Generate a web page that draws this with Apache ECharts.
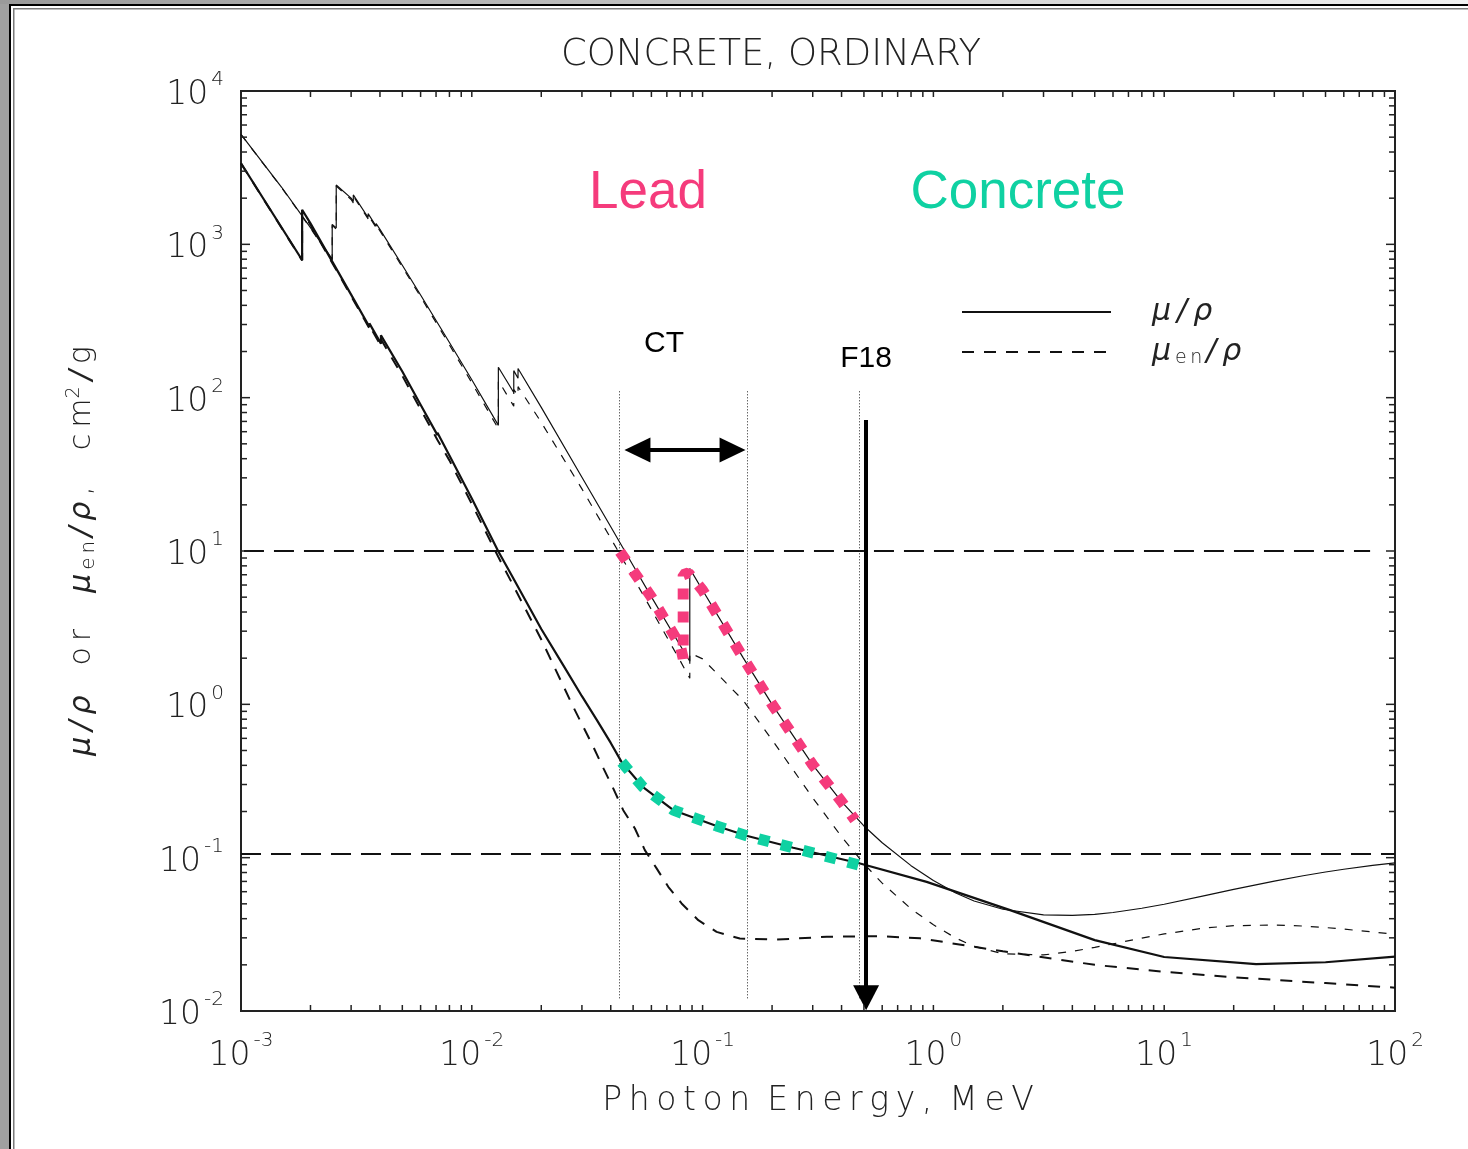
<!DOCTYPE html>
<html>
<head>
<meta charset="utf-8">
<script src="https://cdn.jsdelivr.net/npm/echarts@6/dist/echarts.min.js"></script>
<style>
html,body{margin:0;padding:0;background:#fff;}
#chart{width:1468px;height:1149px;}
</style>
</head>
<body>
<div id="chart"></div>
<script>
// Mass attenuation (mu/rho) and energy-absorption (mu_en/rho) coefficients, cm^2/g,
// versus photon energy in MeV.
const leadMu = [
  [0.001,5210],[0.0015,2356],[0.002,1285],[0.002484,800],[0.002484,1350],[0.002586,1280],
  [0.002586,2440],[0.003,2000],[0.003066,1900],[0.003066,2100],[0.003554,1496],[0.003554,1585],
  [0.003851,1311],[0.003851,1368],[0.004,1251],[0.005,730],[0.006,467],[0.008,229],[0.01,131],
  [0.013035,66],[0.013035,158],[0.0152,108],[0.0152,150],[0.01586,134],[0.01586,155],
  [0.02,86.4],[0.03,30.3],[0.04,14.4],[0.05,8.04],[0.06,5.02],[0.08,2.42],[0.088,1.91],
  [0.088,7.68],[0.1,5.55],[0.15,2.01],[0.2,1.0],[0.3,0.403],[0.4,0.232],[0.5,0.161],
  [0.6,0.125],[0.8,0.0887],[1,0.071],[1.25,0.0588],[1.5,0.0522],[2,0.0461],[3,0.0423],
  [4,0.042],[5,0.0427],[6,0.0439],[8,0.0468],[10,0.0497],[15,0.0566],[20,0.0621],
  [30,0.0704],[40,0.0762],[50,0.0806],[60,0.084],[80,0.089],[100,0.0924]
];
const leadMuEn = [
  [0.001,5197],[0.0015,2344],[0.002,1274],[0.002484,790],[0.002484,1330],[0.002586,1255],
  [0.002586,2400],[0.003,1960],[0.003066,1860],[0.003066,2060],[0.003554,1467],[0.003554,1554],
  [0.003851,1284],[0.003851,1339],[0.004,1224],[0.005,712],[0.006,455],[0.008,221],[0.01,125],
  [0.013035,62.7],[0.013035,129],[0.0152,88],[0.0152,113],[0.01586,103],[0.01586,118],
  [0.02,69],[0.03,25.4],[0.04,12.1],[0.05,6.74],[0.06,4.15],[0.08,1.92],[0.088,1.48],
  [0.088,2.16],[0.1,1.98],[0.15,1.06],[0.2,0.587],[0.3,0.2455],[0.4,0.137],[0.5,0.0913],
  [0.6,0.0682],[0.8,0.0464],[1,0.0365],[1.25,0.0299],[1.5,0.0264],[2,0.0236],[3,0.0232],
  [4,0.0245],[5,0.026],[6,0.0274],[8,0.0299],[10,0.0318],[15,0.0348],[20,0.036],
  [30,0.0364],[40,0.0358],[50,0.035],[60,0.0342],[80,0.0328],[100,0.0316]
];
const concreteMu = [
  [0.001,3380],[0.00184,790],[0.00184,1680],[0.002,1370],[0.0025,760],[0.003,470],
  [0.0036,290],[0.0036,305],[0.00404,225],[0.00404,255],[0.005,148],[0.006,90],
  [0.0071,57],[0.0071,59],[0.008,42],[0.01,22],[0.013,10],[0.015,6.8],[0.02,3.1],
  [0.025,1.78],[0.03,1.13],[0.035,0.78],[0.04,0.56],[0.0446,0.42],[0.055,0.29],
  [0.0747,0.204],[0.115,0.161],[0.155,0.139],[0.247,0.116],[0.481,0.0916],[0.935,0.0695],
  [2.15,0.0455],[5,0.029],[10,0.0225],[25,0.0202],[50,0.0208],[100,0.0226]
];
const concreteMuEn = [
  [0.001,3370],[0.00184,785],[0.00184,1640],[0.002,1340],[0.0025,745],[0.003,460],
  [0.0036,283],[0.0036,295],[0.00404,218],[0.00404,240],[0.005,139],[0.006,84],
  [0.0071,53],[0.0071,54],[0.008,39],[0.01,20.3],[0.013,9.2],[0.015,6.1],[0.02,2.65],
  [0.0275,0.964],[0.0336,0.529],[0.0372,0.382],[0.041,0.283],[0.0453,0.204],[0.0509,0.155],
  [0.0562,0.112],[0.0632,0.0851],[0.071,0.0646],[0.0811,0.0503],[0.0958,0.0391],
  [0.115,0.0328],[0.145,0.0297],[0.209,0.0292],[0.345,0.0305],[0.587,0.0308],
  [0.875,0.0298],[2,0.0245],[5,0.02],[10,0.018],[20,0.0166],[50,0.0152],[100,0.0142]
];
// Highlighted stretches of the lead and concrete attenuation curves
const leadHighlight = [
  [0.0438,9.9],[0.06,5.0],[0.08,2.42],[0.0824,1.99],[0.0824,7.0],[0.0868,7.2],
  [0.1,5.55],[0.15,2.01],[0.2,1.0],[0.3,0.403],[0.4,0.232],[0.457,0.176]
];
const concreteHighlight = [
  [0.0446,0.42],[0.055,0.29],[0.0747,0.204],[0.115,0.161],[0.155,0.139],[0.247,0.116],[0.479,0.0893]
];
// Axis decades (tick labels are 10^n)
const xDecades = [-3,-2,-1,0,1,2];
const yDecades = [-2,-1,0,1,2,3,4];
// Reference energies (MeV) and levels for the annotations
const ctRange = [0.0522,0.1348];
const ctArrowLevel = 45.5;
const guideEnergies = [0.0435,0.156,0.479];
const f18Energy = 0.511;
const f18Span = [71.5,0.01222];
const refLevels = [10.1,0.1054];

const ink = '#111';
const pink = '#f53b7c';
const teal = '#0fd1a2';
const thin = "'DejaVu Sans', 'Liberation Sans', sans-serif";
const arial = "'Liberation Sans', Arial, sans-serif";
const T = '\u2009';

function spaced(s, sep){ return s.split('').join(sep); }

function expLabel(v){
  const e = Math.round(Math.log10(v));
  return '{b|10}{e|' + e + '}';
}
const labelRich = {
  b:{fontSize:33,fontFamily:thin,fontWeight:200,color:'#222',padding:[9,0,0,0],verticalAlign:'bottom'},
  e:{fontSize:20,fontFamily:thin,fontWeight:200,color:'#222',verticalAlign:'top',padding:[0,0,0,3]}
};

// minor/major tick positions on a log axis
function logTicks(decades){
  const out = [];
  for (let i=0;i<decades.length;i++){
    const base = Math.pow(10,decades[i]);
    if (i>0 && i<decades.length-1) out.push([base,1]);
    if (i<decades.length-1) for (let m=2;m<=9;m++) out.push([base*m,0]);
  }
  return out;
}
const xTicks = logTicks(xDecades);
const yTicks = logTicks(yDecades);

function tickRenderer(dir){
  return function(params, api){
    const cs = params.coordSys;
    const major = api.value(2);
    const len = major ? 9 : 6;
    const st = {stroke:'#222', lineWidth:1.5};
    if (dir==='x'){
      const px = api.coord([api.value(0),1])[0];
      const b = cs.y+cs.height, t = cs.y;
      return {type:'group',children:[
        {type:'line',shape:{x1:px,y1:b,x2:px,y2:b-len},style:st},
        {type:'line',shape:{x1:px,y1:t,x2:px,y2:t+len},style:st}
      ]};
    }
    const py = api.coord([1,api.value(1)])[1];
    const l = cs.x, r = cs.x+cs.width;
    return {type:'group',children:[
      {type:'line',shape:{x1:l,y1:py,x2:l+len,y2:py},style:st},
      {type:'line',shape:{x1:r,y1:py,x2:r-len,y2:py},style:st}
    ]};
  };
}

const chart = echarts.init(document.getElementById('chart'), null, {renderer:'canvas'});
const yMax = Math.pow(10,yDecades[yDecades.length-1]);
const yMin = Math.pow(10,yDecades[0]);
const xMin = Math.pow(10,xDecades[0]);
const xMax = Math.pow(10,xDecades[xDecades.length-1]);

const annotationLines = [];
refLevels.forEach((lv,i)=>{
  annotationLines.push([
    {coord:[i===0?0.00103:xMin, lv], symbol:'none', lineStyle:{type:[20,10],width:2,color:ink}},
    {coord:[i===0?78:xMax, lv], symbol:'none'}
  ]);
});
guideEnergies.forEach(e=>{
  annotationLines.push([
    {coord:[e,110], symbol:'none', lineStyle:{type:[1,2],width:1,color:'#222'}},
    {coord:[e,0.0121], symbol:'none'}
  ]);
});
annotationLines.push([
  {coord:[ctRange[0],ctArrowLevel], symbol:'triangle', symbolSize:[25,26], lineStyle:{type:'solid',width:4,color:'#000'}},
  {coord:[ctRange[1],ctArrowLevel], symbol:'triangle', symbolSize:[25,26]}
]);
annotationLines.push([
  {coord:[f18Energy,f18Span[0]], symbol:'none', lineStyle:{type:'solid',width:4,color:'#000'}},
  {coord:[f18Energy,f18Span[1]], symbol:'triangle', symbolSize:[26,25]}
]);

const yName = '{i|' + spaced('μ/ρ',T) + '}\u2003' + spaced('or',T) + '\u2003\u2009{i|μ}{s|' + T + spaced('en',T) + T + '}{i|/' + T + 'ρ}' + T + ',\u2003\u2009'
  + spaced('cm',T) + '{p|2}' + T + '{i|/}' + T + 'g';

const option = {
  animation:false,
  backgroundColor:'#fff',
  grid:{left:241,right:73,top:91,bottom:138,show:true,borderColor:'#222',borderWidth:2,backgroundColor:'transparent'},
  xAxis:{
    type:'log', min:xMin, max:xMax, logBase:10,
    axisLine:{show:false}, axisTick:{show:false}, splitLine:{show:false}, minorTick:{show:false},
    axisLabel:{formatter:expLabel, rich:labelRich, margin:20},
    name:'P\u2009h\u2009o\u2009t\u2009o\u2009n \u2009E\u2009n\u2009e\u2009r\u2009g\u2009y\u2009, \u2009M\u2009e\u2009V',
    nameLocation:'middle', nameGap:74,
    nameTextStyle:{fontSize:33,fontFamily:thin,fontWeight:200,color:'#222',verticalAlign:'top'}
  },
  yAxis:{
    type:'log', min:yMin, max:yMax, logBase:10,
    axisLine:{show:false}, axisTick:{show:false}, splitLine:{show:false}, minorTick:{show:false},
    axisLabel:{formatter:expLabel, rich:labelRich, margin:17},
    name:yName,
    nameLocation:'middle', nameGap:142, nameRotate:90,
    nameTextStyle:{fontSize:30,fontFamily:thin,fontWeight:200,color:'#222',
      rich:{
        i:{fontSize:30,fontFamily:thin,fontWeight:200,fontStyle:'italic',color:'#222'},
        s:{fontSize:20,fontFamily:thin,fontWeight:200,color:'#222',verticalAlign:'bottom',padding:[14,0,0,0]},
        p:{fontSize:19,fontFamily:thin,fontWeight:200,color:'#222',verticalAlign:'top'}
      }}
  },
  legend:{
    data:['μ/ρ','μen/ρ'], orient:'vertical', left:956, top:292,
    itemWidth:149, itemHeight:14, itemGap:10, selectedMode:false,
    itemStyle:{opacity:0},
    formatter:n => n==='μ/ρ' ? '{i|μ' + T + '/' + T + 'ρ}' : '{i|μ}{s|' + T + 'e' + T + 'n' + T + '}{i|/' + T + 'ρ}',
    textStyle:{padding:[0,0,0,36],rich:{
      i:{fontSize:30,fontFamily:thin,fontWeight:200,fontStyle:'italic',color:'#222'},
      s:{fontSize:19,fontFamily:thin,fontWeight:200,color:'#222',verticalAlign:'bottom',padding:[12,0,0,0]}
    }}
  },
  series:[
    {type:'custom',silent:true,z:5,data:xTicks,encode:{x:0,y:1},renderItem:tickRenderer('x'),clip:false},
    {type:'custom',silent:true,z:5,data:yTicks.map(t=>[1,t[0],t[1]]),encode:{x:0,y:1},renderItem:tickRenderer('y'),clip:false},
    {name:'μ/ρ',type:'line',data:concreteMu,showSymbol:false,symbol:'none',z:3,
      itemStyle:{color:ink},lineStyle:{color:ink,width:2.2}},
    {name:'μ/ρ',type:'line',data:leadMu,showSymbol:false,symbol:'none',z:3,
      itemStyle:{color:ink},lineStyle:{color:ink,width:1.2}},
    {name:'μen/ρ',type:'line',data:concreteMuEn,showSymbol:false,symbol:'none',z:3,
      itemStyle:{color:ink},lineStyle:{color:ink,width:2,type:[12,10]}},
    {name:'μen/ρ',type:'line',data:leadMuEn,showSymbol:false,symbol:'none',z:3,
      itemStyle:{color:ink},lineStyle:{color:ink,width:1.2,type:[8,9]}},
    {name:'Lead',type:'line',data:leadHighlight,showSymbol:false,symbol:'none',z:8,
      itemStyle:{color:pink},lineStyle:{color:pink,width:11,type:[11,12],cap:'butt'}},
    {name:'Concrete',type:'line',data:concreteHighlight,showSymbol:false,symbol:'none',z:8,
      itemStyle:{color:teal},lineStyle:{color:teal,width:11,type:[11,12],cap:'butt'}},
    {name:'annotations',type:'line',data:[],z:12,silent:true,
      markLine:{silent:true,animation:false,label:{show:false},symbol:['none','none'],
        emphasis:{disabled:true},data:annotationLines}}
  ],
  graphic:[
    {type:'rect',silent:true,z:100,shape:{x:0,y:0,width:9,height:1149},style:{fill:'#a0a0a0'}},
    {type:'rect',silent:true,z:100,shape:{x:0,y:0,width:1468,height:4},
      style:{fill:new echarts.graphic.LinearGradient(0,0,1,0,[{offset:0,color:'#9a9a9a'},{offset:1,color:'#f2f2f2'}])}},
    {type:'rect',silent:true,z:101,shape:{x:9,y:4,width:2,height:1145},style:{fill:'#000'}},
    {type:'rect',silent:true,z:101,shape:{x:9,y:4,width:1459,height:2},style:{fill:'#000'}},
    {type:'rect',silent:true,z:101,shape:{x:13,y:8,width:1.5,height:1141},style:{fill:'#7a7a7a'}},
    {type:'rect',silent:true,z:101,shape:{x:13,y:8,width:1455,height:1.5},style:{fill:'#7a7a7a'}},
    {type:'text',silent:true,z:50,x:771,y:55,style:{text:'CONCRETE, ORDINARY',fontSize:37,fontFamily:thin,fontWeight:200,
      fill:'#222',textAlign:'center',textVerticalAlign:'middle'}},
    {type:'text',silent:true,z:50,x:648,y:193,style:{text:'Lead',fontSize:53,fontFamily:arial,
      fill:pink,textAlign:'center',textVerticalAlign:'middle'}},
    {type:'text',silent:true,z:50,x:1018,y:193,style:{text:'Concrete',fontSize:53,fontFamily:arial,
      fill:teal,textAlign:'center',textVerticalAlign:'middle'}},
    {type:'text',silent:true,z:50,x:664,y:344,style:{text:'CT',fontSize:30,fontFamily:arial,
      fill:'#000',textAlign:'center',textVerticalAlign:'middle'}},
    {type:'text',silent:true,z:50,x:866,y:359,style:{text:'F18',fontSize:30,fontFamily:arial,
      fill:'#000',textAlign:'center',textVerticalAlign:'middle'}}
  ]
};
chart.setOption(option);
</script>
</body>
</html>
